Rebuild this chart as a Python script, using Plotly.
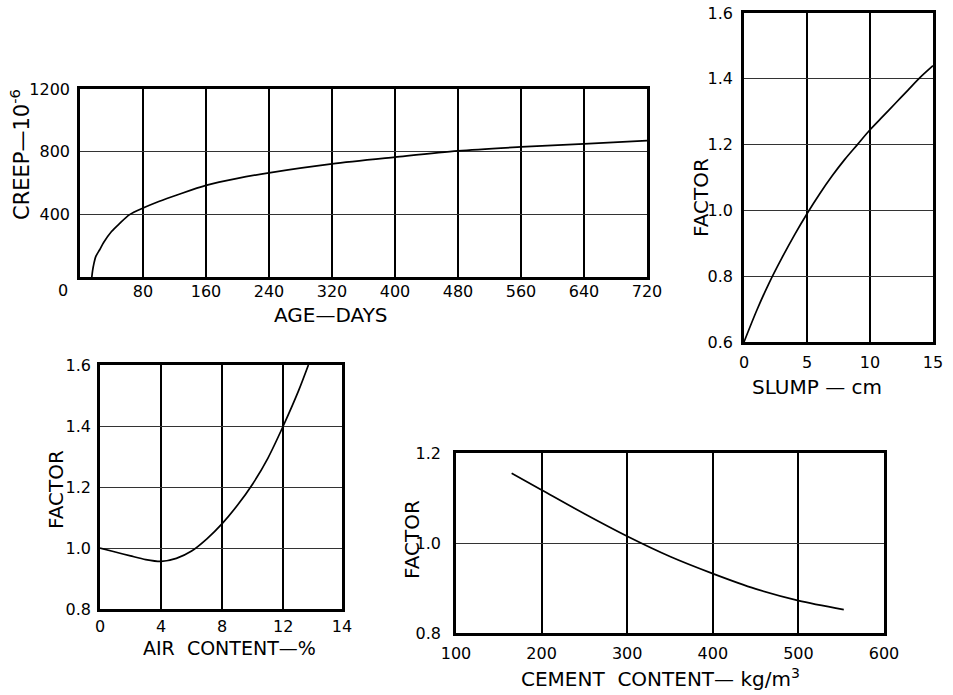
import plotly.graph_objects as go

# ---------------- data ----------------
# Creep vs age
age_days = [15, 16, 17, 20, 25, 30, 40, 50, 63, 80, 100, 125, 160, 200, 240, 320, 400, 480, 560, 640, 720]
creep = [0, 40, 70, 130, 174, 220, 290, 340, 398, 440, 482, 527, 585, 630, 665, 722, 765, 805, 830, 850, 870]
age_ticks = [80, 160, 240, 320, 400, 480, 560, 640, 720]
creep_ticks = [400, 800, 1200]

# Slump factor
slump_cm = [0, 1, 2, 3, 4, 5, 6, 7, 8, 9, 10, 11, 12, 13, 14, 15]
slump_factor = [0.60, 0.695, 0.78, 0.855, 0.925, 0.99, 1.05, 1.105, 1.155, 1.20, 1.245, 1.285, 1.325, 1.365, 1.405, 1.44]
slump_ticks = [0, 5, 10, 15]
slump_factor_ticks = [0.6, 0.8, 1.0, 1.2, 1.4, 1.6]
slump_factor_labels = ["0.6", "0.8", "1.0", "1.2", "1.4", "1.6"]

# Air content factor
air_pct = [0, 1, 2, 3, 4, 5, 6, 7, 8, 9, 10, 11, 12, 13, 13.65]
air_factor = [1.0, 0.987, 0.974, 0.962, 0.956, 0.966, 0.99, 1.03, 1.08, 1.14, 1.21, 1.295, 1.40, 1.515, 1.60]
air_tick_vals = [0, 4, 8, 12, 15.85]
air_tick_labels = ["0", "4", "8", "12", "14"]
air_factor_ticks = [0.8, 1.0, 1.2, 1.4, 1.6]
air_factor_labels = ["0.8", "1.0", "1.2", "1.4", "1.6"]

# Cement content factor
cement_kg = [165, 200, 250, 300, 350, 400, 450, 500, 553]
cement_factor = [1.155, 1.118, 1.065, 1.015, 0.97, 0.932, 0.898, 0.872, 0.852]
cement_ticks = [100, 200, 300, 400, 500, 600]
cement_factor_ticks = [0.8, 1.0, 1.2]
cement_factor_labels = ["0.8", "1.0", "1.2"]

# ---------------- layout helpers ----------------
W, H = 953, 695


def xd(a, b):
    return [a / W, b / W]


def yd(top, bottom):
    return [1 - bottom / H, 1 - top / H]


def px(x):
    return x / W


def py(y):
    return 1 - y / H


FONT = "DejaVu Sans"
TICKFONT = dict(family=FONT, size=16, color="black")
TITLEFONT = dict(family=FONT, size=20, color="black")

fig = go.Figure()

line = dict(color="black", width=1.7, shape="spline", smoothing=0.8)
fig.add_trace(go.Scatter(x=age_days, y=creep, mode="lines", line=line, xaxis="x", yaxis="y"))
fig.add_trace(go.Scatter(x=slump_cm, y=slump_factor, mode="lines", line=line, xaxis="x2", yaxis="y2"))
fig.add_trace(go.Scatter(x=air_pct, y=air_factor, mode="lines", line=line, xaxis="x3", yaxis="y3"))
fig.add_trace(go.Scatter(x=cement_kg, y=cement_factor, mode="lines", line=line, xaxis="x4", yaxis="y4"))


def xax(domain, rng, tickvals, ticktext=None, anchor="y", standoff=0):
    d = dict(domain=domain, range=rng, tickvals=tickvals, anchor=anchor,
             showgrid=True, gridcolor="black", gridwidth=2,
             showline=True, mirror=True, linecolor="black", linewidth=2.5,
             zeroline=False, ticks="", tickfont=TICKFONT, fixedrange=True,
             automargin=False, ticklabelstandoff=standoff)
    if ticktext is not None:
        d["ticktext"] = ticktext
    return d


def yax(domain, rng, tickvals, ticktext=None, anchor="x", standoff=0):
    d = dict(domain=domain, range=rng, tickvals=tickvals, anchor=anchor,
             showgrid=True, gridcolor="#333333", gridwidth=1.3,
             showline=True, mirror=True, linecolor="black", linewidth=2.5,
             zeroline=False, ticks="", tickfont=TICKFONT, fixedrange=True,
             automargin=False, ticklabelstandoff=standoff)
    if ticktext is not None:
        d["ticktext"] = ticktext
    return d


fig.update_layout(
    width=W, height=H,
    margin=dict(l=0, r=0, t=0, b=0, autoexpand=False),
    paper_bgcolor="white", plot_bgcolor="white",
    showlegend=False,
    xaxis=xax(xd(80, 647), [0, 720], age_ticks, anchor="y", standoff=-2),
    yaxis=yax(yd(89, 277), [0, 1200], creep_ticks, anchor="x", standoff=4),
    xaxis2=xax(xd(744, 933), [0, 15], slump_ticks, anchor="y2", standoff=4),
    yaxis2=yax(yd(13, 342), [0.6, 1.6], slump_factor_ticks, slump_factor_labels, anchor="x2", standoff=5),
    xaxis3=xax(xd(100, 342), [0, 15.85], air_tick_vals, air_tick_labels, anchor="y3", standoff=1),
    yaxis3=yax(yd(365, 609), [0.8, 1.6], air_factor_ticks, air_factor_labels, anchor="x3", standoff=3),
    xaxis4=xax(xd(456, 884), [100, 600], cement_ticks, anchor="y4", standoff=4),
    yaxis4=yax(yd(453, 633), [0.8, 1.2], cement_factor_ticks, cement_factor_labels, anchor="x4", standoff=9),
)

annotations = [
    # origin label of creep chart
    dict(x=px(63), y=py(290), text="0", font=TICKFONT),
    # axis titles
    dict(x=px(20), y=py(155), text="CREEP—10<sup>-6</sup>", textangle=-90,
         font=dict(family=FONT, size=21, color="black")),
    dict(x=px(331), y=py(315), text="AGE—DAYS", font=TITLEFONT),
    dict(x=px(701), y=py(198), text="FACTOR", textangle=-90, font=TITLEFONT),
    dict(x=px(817), y=py(387), text="SLUMP — cm", font=TITLEFONT),
    dict(x=px(56), y=py(490), text="FACTOR", textangle=-90, font=TITLEFONT),
    dict(x=px(229), y=py(648), text="AIR  CONTENT—%", font=dict(family=FONT, size=19, color="black")),
    dict(x=px(412), y=py(540), text="FACTOR", textangle=-90, font=TITLEFONT),
    dict(x=px(660), y=py(678), text="CEMENT  CONTENT— kg/m<sup>3</sup>", font=TITLEFONT),
]
for a in annotations:
    a.update(xref="paper", yref="paper", showarrow=False, xanchor="center", yanchor="middle")
fig.update_layout(annotations=annotations)

fig.write_html("out.html")
